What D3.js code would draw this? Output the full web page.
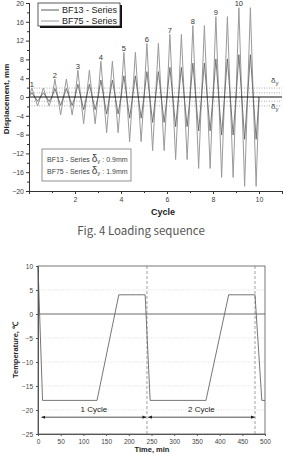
<!DOCTYPE html>
<html>
<head>
<meta charset="utf-8">
<script src="https://cdn.jsdelivr.net/npm/d3@7"></script>
<style>
  body { margin: 0; background: #fff; }
  svg { display: block; font-family: "Liberation Sans", Arial, sans-serif; }
</style>
</head>
<body>
<div id="chart"></div>
<script>
// ---- data ----
// loading levels (cycle numbers printed above the peaks)
var levels = [1, 2, 3, 4, 5, 6, 7, 8, 9, 10];
// peak displacement (mm) of each level, two repeats per level
var bf13Amp = [0.9, 1.8, 2.7, 3.6, 4.5, 5.4, 6.3, 7.2, 8.1, 9.0];
var bf75Amp = [1.9, 3.8, 5.7, 7.6, 9.5, 11.4, 13.3, 15.2, 17.1, 19.0];
// shape of one level: phase (fraction of a cycle) and sign of displacement
var phase = [0, 0.125, 0.25, 0.375, 0.5, 0.625, 0.75, 0.875];
var sign  = [0, 1, 0, -1, 0, 1, 0, -1];
var yieldLines = [1.9, 0.9, -0.9, -1.9];
var dispTicks = [-20, -16, -12, -8, -4, 0, 4, 8, 12, 16, 20];
var cycleTicks = [2, 4, 6, 8, 10];

// temperature history
var timeMin = [0, 10, 130, 178, 236, 247, 370, 420, 478, 493, 500];
var tempC   = [10, -18, -18, 4, 4, -18, -18, 4, 4, -18, -18];
var cycleEnds = [240, 478];
var tempTicks = [-25, -20, -15, -10, -5, 0, 5, 10];
var timeTicks = [0, 50, 100, 150, 200, 250, 300, 350, 400, 450, 500];

var svg = d3.select("#chart").append("svg")
  .attr("width", 284).attr("height", 454);

function buildWave(amps) {
  var pts = [];
  amps.forEach(function(a, i) {
    phase.forEach(function(p, j) { pts.push([i + p, sign[j] * a]); });
  });
  pts.push([amps.length, 0]);
  return pts;
}

/* ---------- upper chart: loading sequence ---------- */
var x = d3.scaleLinear().domain([0, 11]).range([29, 282]);
var y = d3.scaleLinear().domain([-20, 20]).range([191, 3]);

var upper = svg.append("g");

// yield displacement lines
upper.selectAll(".yl").data(yieldLines).enter().append("line")
  .attr("x1", x(0)).attr("x2", x(11))
  .attr("y1", function(d) { return y(d); }).attr("y2", function(d) { return y(d); })
  .attr("stroke", "#888").attr("stroke-width", 0.7).attr("stroke-dasharray", "1,1.5");

var line = d3.line().x(function(d) { return x(d[0]); }).y(function(d) { return y(d[1]); });

upper.append("path").datum(buildWave(bf75Amp))
  .attr("d", line).attr("fill", "none").attr("stroke", "#9a9a9a").attr("stroke-width", 1);
upper.append("path").datum(buildWave(bf13Amp))
  .attr("d", line).attr("fill", "none").attr("stroke", "#5a5a5a").attr("stroke-width", 0.8);

// zero line
upper.append("line").attr("x1", x(0)).attr("x2", x(11))
  .attr("y1", y(0)).attr("y2", y(0)).attr("stroke", "#111").attr("stroke-width", 1);

// level numbers
upper.selectAll(".lv").data(levels).enter().append("text")
  .attr("x", function(d, i) { return x(i + 0.125); })
  .attr("y", function(d, i) { return y(bf75Amp[i]) - 1.5; })
  .attr("text-anchor", "middle").attr("font-size", 7.5).attr("fill", "#333")
  .text(function(d) { return d; });

// axes
upper.append("g").attr("transform", "translate(" + x(0) + ",0)")
  .call(d3.axisLeft(y).tickValues(dispTicks).tickSize(3).tickPadding(2));
upper.append("g").attr("transform", "translate(" + x(0) + ",0)")
  .call(d3.axisLeft(y).tickValues(d3.range(-18, 20, 4)).tickSize(2).tickFormat(""));
upper.append("g").attr("transform", "translate(0," + y(-20) + ")")
  .call(d3.axisBottom(x).tickValues(cycleTicks).tickSize(3).tickPadding(3));
upper.append("g").attr("transform", "translate(0," + y(-20) + ")")
  .call(d3.axisBottom(x).tickValues([1, 3, 5, 7, 9, 11]).tickSize(2).tickFormat(""));
upper.selectAll(".domain").attr("stroke", "#333");
upper.selectAll(".tick line").attr("stroke", "#333");
upper.selectAll(".tick text").attr("font-size", 7).attr("fill", "#444")
  .attr("font-family", "Liberation Sans, Arial, sans-serif");

// axis titles
upper.append("text").attr("transform", "translate(9," + 99 + ") rotate(-90)")
  .attr("text-anchor", "middle").attr("font-size", 8).attr("font-weight", "bold")
  .attr("fill", "#222").text("Displacement, mm");
upper.append("text").attr("x", 163).attr("y", 215)
  .attr("text-anchor", "middle").attr("font-size", 9).attr("font-weight", "bold")
  .attr("fill", "#222").text("Cycle");

// delta-y labels on the right
[83, 109].forEach(function(ty) {
  var t = upper.append("text").attr("x", 271).attr("y", ty).attr("font-size", 8).attr("fill", "#444");
  t.append("tspan").text("\u03b4");
  t.append("tspan").attr("font-size", 6).attr("dy", 1.5).text("y");
});

// series legend
upper.append("rect").attr("x", 40).attr("y", 5).attr("width", 82).attr("height", 23).attr("fill", "#111");
upper.append("rect").attr("x", 38).attr("y", 3).attr("width", 82).attr("height", 23)
  .attr("fill", "#fff").attr("stroke", "#333").attr("stroke-width", 0.8);
var legendItems = [["BF13 - Series", "#5a5a5a"], ["BF75 - Series", "#9a9a9a"]];
legendItems.forEach(function(d, i) {
  var ly = 10 + i * 11;
  upper.append("line").attr("x1", 41).attr("x2", 59).attr("y1", ly).attr("y2", ly)
    .attr("stroke", d[1]).attr("stroke-width", 1);
  upper.append("text").attr("x", 62).attr("y", ly + 3).attr("font-size", 9).attr("fill", "#222").text(d[0]);
});

// yield values box
upper.append("rect").attr("x", 42).attr("y", 149).attr("width", 89).attr("height", 32)
  .attr("fill", "#fff").attr("stroke", "#777").attr("stroke-width", 0.8);
[["BF13 - Series ", ": 0.9mm"], ["BF75 - Series ", ": 1.9mm"]].forEach(function(d, i) {
  var t = upper.append("text").attr("x", 47).attr("y", 162 + i * 12).attr("font-size", 7).attr("fill", "#444");
  t.append("tspan").text(d[0]);
  t.append("tspan").attr("font-size", 10).text("\u03b4");
  t.append("tspan").attr("font-size", 6).attr("dy", 1).text("y");
  t.append("tspan").attr("dy", -1).text(" " + d[1]);
});

// caption
svg.append("text").attr("x", 141).attr("y", 235).attr("text-anchor", "middle")
  .attr("font-family", "Noto Sans CJK KR, Noto Sans, sans-serif")
  .attr("font-size", 11.5).attr("fill", "#555").text("Fig. 4  Loading sequence");

/* ---------- lower chart: temperature history ---------- */
var xt = d3.scaleLinear().domain([0, 500]).range([38, 265]);
var yt = d3.scaleLinear().domain([-25, 10]).range([434, 266]);
var bot = svg.append("g");

// grid
bot.selectAll(".grid").data([5, -5, -10, -15, -20]).enter().append("line")
  .attr("x1", xt(0)).attr("x2", xt(500))
  .attr("y1", function(d) { return yt(d); }).attr("y2", function(d) { return yt(d); })
  .attr("stroke", "#ccc").attr("stroke-width", 0.6).attr("stroke-dasharray", "1,1.5");

bot.append("line").attr("x1", xt(0)).attr("x2", xt(500)).attr("y1", yt(0)).attr("y2", yt(0))
  .attr("stroke", "#444").attr("stroke-width", 0.8);

// cycle boundaries
bot.selectAll(".ce").data(cycleEnds).enter().append("line")
  .attr("x1", function(d) { return xt(d); }).attr("x2", function(d) { return xt(d); })
  .attr("y1", yt(10)).attr("y2", yt(-25))
  .attr("stroke", "#888").attr("stroke-width", 0.8).attr("stroke-dasharray", "3,2");

var tline = d3.line().x(function(d, i) { return xt(timeMin[i]); }).y(function(d) { return yt(d); });
bot.append("path").datum(tempC).attr("d", tline)
  .attr("fill", "none").attr("stroke", "#666").attr("stroke-width", 0.9);

// frame and axes
bot.append("rect").attr("x", xt(0)).attr("y", yt(10))
  .attr("width", xt(500) - xt(0)).attr("height", yt(-25) - yt(10))
  .attr("fill", "none").attr("stroke", "#555").attr("stroke-width", 0.8);
bot.append("g").attr("transform", "translate(" + xt(0) + ",0)")
  .call(d3.axisLeft(yt).tickValues(tempTicks).tickSize(2).tickPadding(3));
bot.append("g").attr("transform", "translate(0," + yt(-25) + ")")
  .call(d3.axisBottom(xt).tickValues(timeTicks).tickSize(2).tickPadding(3));
bot.selectAll(".domain").attr("stroke", "#555");
bot.selectAll(".tick line").attr("stroke", "#555");
bot.selectAll(".tick text").attr("font-size", 6.5).attr("fill", "#444")
  .attr("font-family", "Liberation Sans, Arial, sans-serif");

// arrows for cycle spans
var defs = svg.append("defs");
defs.append("marker").attr("id", "ah").attr("viewBox", "0 0 10 10")
  .attr("refX", 9).attr("refY", 5).attr("markerWidth", 5).attr("markerHeight", 5)
  .attr("orient", "auto-start-reverse")
  .append("path").attr("d", "M0,1L10,5L0,9Z").attr("fill", "#222");
var spans = [[8, 238, "1 Cycle"], [243, 477, "2 Cycle"]];
spans.forEach(function(s) {
  bot.append("line").attr("x1", xt(s[0])).attr("x2", xt(s[1]))
    .attr("y1", yt(-21.5)).attr("y2", yt(-21.5))
    .attr("stroke", "#222").attr("stroke-width", 0.8)
    .attr("marker-start", "url(#ah)").attr("marker-end", "url(#ah)");
  bot.append("text").attr("x", (xt(s[0]) + xt(s[1])) / 2).attr("y", yt(-20.4))
    .attr("text-anchor", "middle").attr("font-size", 8).attr("fill", "#222").text(s[2]);
});

// axis titles
bot.append("text").attr("transform", "translate(18,350) rotate(-90)")
  .attr("text-anchor", "middle").attr("font-size", 7.5).attr("font-weight", "bold")
  .attr("fill", "#222").text("Temperature, \u2103");
bot.append("text").attr("x", 152).attr("y", 452)
  .attr("text-anchor", "middle").attr("font-size", 7.5).attr("font-weight", "bold")
  .attr("fill", "#222").text("Time, min");
</script>
</body>
</html>
